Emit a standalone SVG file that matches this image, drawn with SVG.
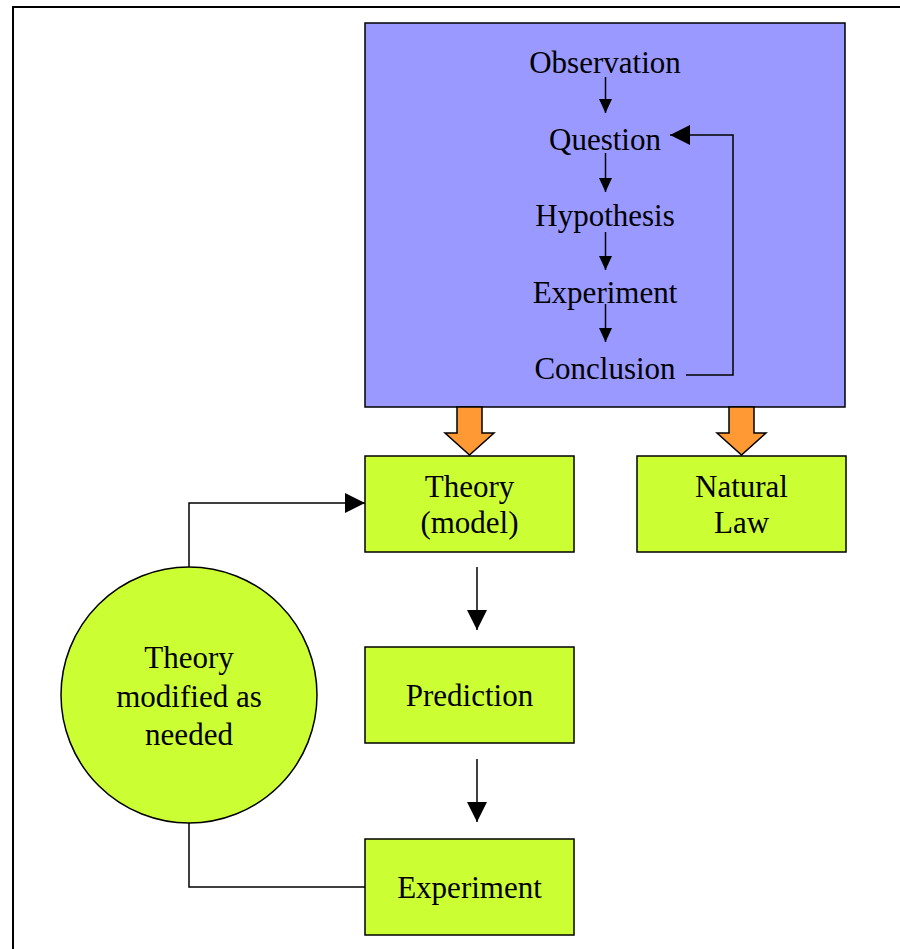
<svg xmlns="http://www.w3.org/2000/svg" width="900" height="949" viewBox="0 0 900 949">
<style>
.t{font-family:"Liberation Serif","Times New Roman",serif;font-size:31px;fill:#000;text-anchor:middle}
.box{fill:#ccff33;stroke:#000;stroke-width:1.5}
.ln{fill:none;stroke:#000;stroke-width:1.5}
.big{fill:#ff9933;stroke:#000;stroke-width:1.5;stroke-linejoin:miter}
</style>
<defs>
<marker id="ah" markerWidth="14" markerHeight="13" refX="14" refY="6.5" orient="auto" markerUnits="userSpaceOnUse" viewBox="0 0 14 13">
<path d="M0,0 L14,6.5 L0,13 Z" fill="#000"/>
</marker>
<marker id="ahb" markerWidth="20" markerHeight="20" refX="20" refY="10" orient="auto" markerUnits="userSpaceOnUse" viewBox="0 0 20 20">
<path d="M0,0 L20,10 L0,20 Z" fill="#000"/>
</marker>
</defs>
<rect x="13" y="7" width="1000" height="1000" fill="#fff" stroke="#000" stroke-width="2"/>
<g id="method">
<rect x="365" y="23" width="480" height="384" fill="#9999ff" stroke="#000" stroke-width="1.5"/>
<text class="t" x="605" y="73">Observation</text>
<text class="t" x="605" y="150">Question</text>
<text class="t" x="605" y="226">Hypothesis</text>
<text class="t" x="605" y="303">Experiment</text>
<text class="t" x="605" y="379">Conclusion</text>
</g>
<g id="theory">
<rect class="box" x="365" y="456" width="209" height="96"/>
<text class="t" x="469.5" y="497">Theory</text>
<text class="t" x="469.5" y="533">(model)</text>
</g>
<g id="law">
<rect class="box" x="637" y="456" width="209" height="96"/>
<text class="t" x="741.5" y="497">Natural</text>
<text class="t" x="741.5" y="533">Law</text>
</g>
<g id="prediction">
<rect class="box" x="365" y="647" width="209" height="96"/>
<text class="t" x="469.5" y="706">Prediction</text>
</g>
<g id="experiment">
<rect class="box" x="365" y="839" width="209" height="96"/>
<text class="t" x="469.5" y="898">Experiment</text>
</g>
<g id="modified">
<circle cx="189" cy="695" r="128" fill="#ccff33" stroke="#000" stroke-width="1.5"/>
<text class="t" x="189" y="668">Theory</text>
<text class="t" x="189" y="707">modified as</text>
<text class="t" x="189" y="745">needed</text>
</g>
<g id="connectors">
<path class="big" d="M457,407 L482,407 L482,433 L494,433 L469.5,455 L445,433 L457,433 Z"/>
<path class="big" d="M729,407 L754,407 L754,433 L766,433 L741.5,455 L717,433 L729,433 Z"/>
<line class="ln" x1="605.5" y1="77" x2="605.5" y2="113" marker-end="url(#ah)"/>
<line class="ln" x1="605.5" y1="153" x2="605.5" y2="192" marker-end="url(#ah)"/>
<line class="ln" x1="605.5" y1="232" x2="605.5" y2="270" marker-end="url(#ah)"/>
<line class="ln" x1="605.5" y1="304" x2="605.5" y2="342" marker-end="url(#ah)"/>
<polyline class="ln" points="686,375 733,375 733,135 670,135" marker-end="url(#ahb)"/>
<line class="ln" x1="477" y1="567" x2="477" y2="630" marker-end="url(#ahb)"/>
<line class="ln" x1="477" y1="759" x2="477" y2="822" marker-end="url(#ahb)"/>
<polyline class="ln" points="189,567 189,503 365,503" marker-end="url(#ahb)"/>
<polyline class="ln" points="189,823 189,887 365,887"/>
</g>
</svg>
